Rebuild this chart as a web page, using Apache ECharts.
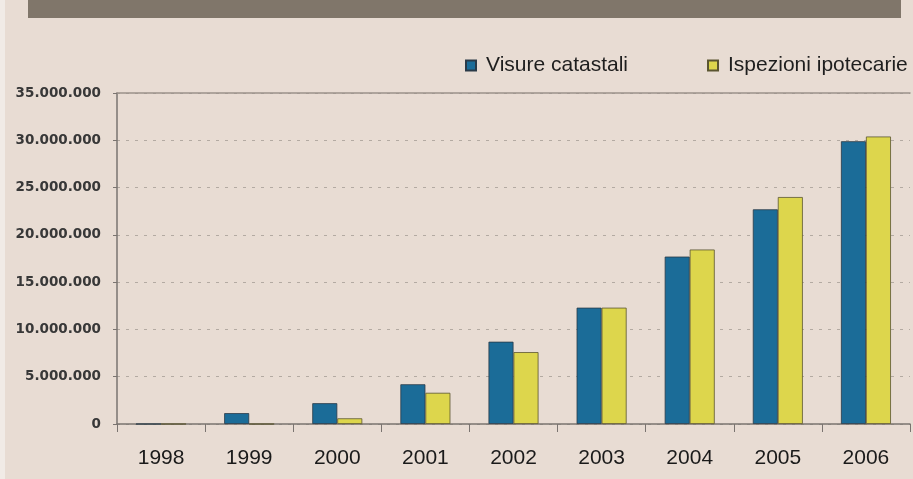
<!DOCTYPE html>
<html>
<head>
<meta charset="utf-8">
<script src="https://cdn.jsdelivr.net/npm/echarts@6/dist/echarts.min.js"></script>
<style>
html,body{margin:0;padding:0;background:#f1ebe6;}
#c{position:absolute;left:5px;top:0;width:908px;height:479px;background:#e8dcd3;}
</style>
</head>
<body>
<div id="c"></div>
<script>
const years = ['1998','1999','2000','2001','2002','2003','2004','2005','2006'];
const visureCatastali = [0, 1150000, 2200000, 4200000, 8700000, 12300000, 17700000, 22700000, 29900000];
const ispezioniIpotecarie = [0, 0, 600000, 3300000, 7600000, 12300000, 18450000, 24000000, 30400000];
const seriesNames = ['Visure catastali', 'Ispezioni ipotecarie'];

function fmt(v){ return String(v).replace(/\B(?=(\d{3})+(?!\d))/g, '.'); }

const chart = echarts.init(document.getElementById('c'), null, {renderer:'canvas'});
chart.setOption({
  animation:false,
  graphic:[{type:'rect', shape:{x:23,y:0,width:873,height:18}, style:{fill:'#80766a'}}],
  legend:{
    left:455, top:50, width:460, orient:'horizontal', itemWidth:10, itemHeight:10, itemGap:79,
    icon:'rect',
    textStyle:{fontFamily:'Liberation Sans', fontSize:21, color:'#1e1e1e', padding:[0,0,0,5]},
    data:seriesNames
  },
  grid:{left:112, right:3, top:93, bottom:55},
  xAxis:[{
    type:'category', data:years,
    axisLine:{lineStyle:{color:'#7a7470', width:1.5}},
    axisTick:{show:true, length:8, lineStyle:{color:'#7a7470'}},
    axisLabel:{fontFamily:'Liberation Sans', fontSize:21, color:'#1a1a1a', margin:24}
  },{
    type:'category', data:years, position:'top',
    axisLine:{show:true, lineStyle:{color:'#9a918a', width:1.5}},
    axisTick:{show:false}, axisLabel:{show:false}
  }],
  yAxis:{
    type:'value', min:0, max:35000000, interval:5000000,
    axisLine:{show:true, lineStyle:{color:'#7a7470', width:1.5}},
    axisTick:{show:true, length:4, lineStyle:{color:'#7a7470'}},
    axisLabel:{fontFamily:'DejaVu Sans', fontWeight:'bold', fontSize:13.5, color:'#383838', margin:16, formatter:fmt},
    splitLine:{lineStyle:{color:'#b3aaa2', type:[3,6], width:1}}
  },
  series:[{
    name:seriesNames[0], type:'bar', data:visureCatastali, barWidth:25, barGap:'0%',
    itemStyle:{color:'#1b6c98', borderColor:'#2a3a48', borderWidth:0.8}
  },{
    name:seriesNames[1], type:'bar', data:ispezioniIpotecarie, barWidth:25,
    itemStyle:{color:'#ddd64c', borderColor:'#5a5530', borderWidth:0.8}
  }]
});
</script>
</body>
</html>
